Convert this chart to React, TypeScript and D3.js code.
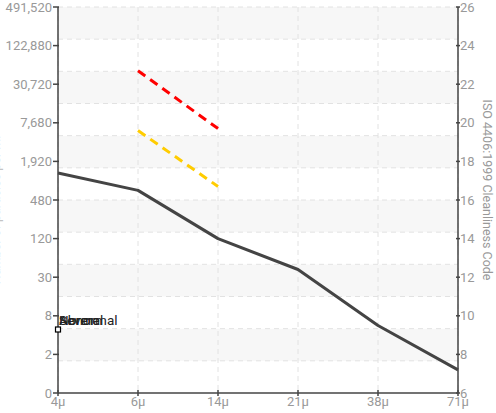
import React from "react";
import * as d3 from "d3";

const categories = ["4\u03bc", "6\u03bc", "14\u03bc", "21\u03bc", "38\u03bc", "71\u03bc"];
const sampleCodes = [17.4, 16.5, 14.0, 12.4, 9.5, 7.2];
const severeCodes: (number | null)[] = [null, 22.7, 19.7, null, null, null];
const alertCodes: (number | null)[] = [null, 19.6, 16.7, null, null, null];
const codeTicks = [6, 8, 10, 12, 14, 16, 18, 20, 22, 24, 26];
const countLabels = ["0", "2", "8", "30", "120", "480", "1,920", "7,680", "30,720", "122,880", "491,520"];
const legendNames = ["Severe", "Normal", "Abnormal"];

const W = 496, H = 413;
const M = { left: 58, right: 38, top: 7, bottom: 20 };
const FONT = "Roboto, 'DejaVu Sans', sans-serif";

export default function App() {
  const x = d3.scalePoint<string>().domain(categories).range([M.left, W - M.right]);
  const y = d3.scaleLinear().domain([6, 26]).range([H - M.bottom, M.top]);
  const bandScale = d3.scaleLinear().domain([0, 12]).range([H - M.bottom, M.top]);
  const bands = d3.range(12);
  const x0 = M.left, x1 = W - M.right, y0 = H - M.bottom, yTop = M.top;

  const line = d3
    .line<number | null>()
    .defined((d) => d !== null)
    .x((_, i) => x(categories[i]) as number)
    .y((d) => y(d as number));

  return (
    <div style={{ position: "absolute", left: 0, top: 0 }}>
      <svg width={W} height={H} style={{ display: "block", fontFamily: FONT }}>
        {bands.map((b) => (
          <rect
            key={"b" + b}
            x={x0}
            width={x1 - x0}
            y={bandScale(b + 1)}
            height={bandScale(b) - bandScale(b + 1)}
            fill={b % 2 === 1 ? "#f7f7f7" : "#ffffff"}
          />
        ))}
        {d3.range(1, 13).map((b) => (
          <line key={"h" + b} x1={x0} x2={x1} y1={bandScale(b)} y2={bandScale(b)} stroke="#e2e2e2" strokeDasharray="5,4" />
        ))}
        {categories.map((c) => (
          <line key={"v" + c} x1={x(c)} x2={x(c)} y1={yTop} y2={y0} stroke="#e2e2e2" strokeDasharray="5,4" />
        ))}
        <path d={line(sampleCodes) || ""} fill="none" stroke="#444" strokeWidth={3} strokeLinejoin="round" />
        <path d={line(severeCodes) || ""} fill="none" stroke="#ff0000" strokeWidth={3} strokeDasharray="9,6" />
        <path d={line(alertCodes) || ""} fill="none" stroke="#ffcc00" strokeWidth={3} strokeDasharray="9,6" />

        {/* axes */}
        <line x1={x0} x2={x0} y1={yTop} y2={y0} stroke="#444" strokeWidth={1.5} />
        <line x1={x1} x2={x1} y1={yTop} y2={y0} stroke="#444" strokeWidth={1.5} />
        <line x1={x0} x2={x1} y1={y0} y2={y0} stroke="#444" strokeWidth={1.5} />
        {codeTicks.map((t, i) => (
          <g key={"l" + t}>
            <line x1={x0 - 5} x2={x0 + 1} y1={y(t)} y2={y(t)} stroke="#444" strokeWidth={1.5} />
            <text x={x0 - 6} y={y(t)} dy="0.35em" textAnchor="end" fontSize={13} fill="#999">
              {countLabels[i]}
            </text>
            <line x1={x1 - 2} x2={x1 + 2} y1={y(t)} y2={y(t)} stroke="#444" strokeWidth={1.5} />
            <text x={x1 + 2} y={y(t)} dy="0.35em" textAnchor="start" fontSize={13} fill="#999">
              {t}
            </text>
          </g>
        ))}
        {categories.map((c) => (
          <g key={"x" + c}>
            <line x1={x(c)} x2={x(c)} y1={y0 - 3} y2={y0 + 3} stroke="#444" strokeWidth={1.5} />
            <text x={x(c)} y={y0 + 3} dy="0.8em" textAnchor="middle" fontSize={13} fill="#999">
              {c}
            </text>
          </g>
        ))}
        <text
          transform={`translate(483,${(yTop + y0) / 2 - 10}) rotate(90)`}
          textAnchor="middle"
          fontSize={12.5}
          fill="#999"
        >
          ISO 4406:1999 Cleanliness Code
        </text>
        <text
          transform={`translate(0,${(yTop + y0) / 2 + 10}) rotate(-90)`}
          textAnchor="middle"
          fontSize={12.5}
          fill="#c4c4c4"
        >
          Number of particles per ml
        </text>

        {/* legend */}
        <rect x={x0 - 2.5} y={327} width={5} height={5} fill="#fff" stroke="#000" strokeWidth={1.2} />
        {legendNames.map((n) => (
          <text key={n} x={x0 + 1} y={325} fontSize={13.5} fill="#222">
            {n}
          </text>
        ))}
      </svg>
    </div>
  );
}
